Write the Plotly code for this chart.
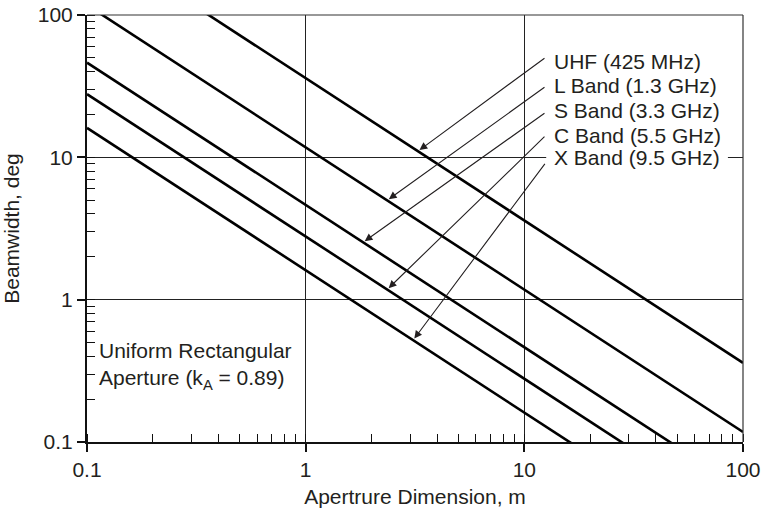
import numpy as np
import plotly.graph_objects as go

# Beamwidth vs. aperture dimension for a uniform rectangular aperture (k_A = 0.89)
band_labels = ["UHF (425 MHz)", "L Band (1.3 GHz)", "S Band (3.3 GHz)",
               "C Band (5.5 GHz)", "X Band (9.5 GHz)"]
aperture_m = [0.1, 100.0]
beamwidth_uhf = [360.0, 0.36]
beamwidth_l = [117.6, 0.1176]
beamwidth_s = [46.3, 0.0463]
beamwidth_c = [27.8, 0.0278]
beamwidth_x = [16.1, 0.0161]
beamwidths = [beamwidth_uhf, beamwidth_l, beamwidth_s, beamwidth_c, beamwidth_x]

# where each callout arrow meets its line (aperture, m)
arrow_tip_aperture = [3.26, 2.36, 1.83, 2.36, 3.10]

FONT = "Liberation Sans, Arial, Helvetica, sans-serif"
INK = "#231f20"
FS = 21

fig = go.Figure()
for name, bw in zip(band_labels, beamwidths):
    fig.add_trace(go.Scatter(x=aperture_m, y=bw, mode="lines", name=name,
                             line=dict(color="black", width=2.6),
                             showlegend=False, hoverinfo="skip"))

annotations = []
# band labels
label_y_log = [1.676, 1.507, 1.331, 1.155, 1.0]
for name, ylog in zip(band_labels, label_y_log):
    annotations.append(dict(
        x=1.126, y=ylog, xref="x", yref="y", text=name, showarrow=False,
        xanchor="left", yanchor="middle",
        font=dict(family=FONT, size=FS, color=INK)))

# callout arrows from the labels to the lines
tail_y_log = [1.704, 1.50, 1.317, 1.155, 0.965]
lx = np.log10(aperture_m)
for bw, tip_x, ty in zip(beamwidths, arrow_tip_aperture, tail_y_log):
    tip_xl = np.log10(tip_x)
    tip_yl = np.interp(tip_xl, lx, np.log10(bw))
    annotations.append(dict(
        x=tip_xl, y=tip_yl, xref="x", yref="y",
        ax=1.099, ay=ty, axref="x", ayref="y",
        text="", showarrow=True, arrowhead=2, arrowsize=1.4,
        arrowwidth=1.1, arrowcolor=INK, standoff=2))

annotations.append(dict(
    x=-0.955, y=np.log10(0.342), xref="x", yref="y",
    text="Uniform Rectangular<br>Aperture (k<sub>A</sub> = 0.89)",
    showarrow=False, xanchor="left", yanchor="middle", align="left",
    font=dict(family=FONT, size=FS, color=INK)))

axis_common = dict(
    type="log", range=[-1, 2], dtick=1, automargin=False,
    showgrid=True, gridcolor="#222", gridwidth=1,
    showline=True, linecolor="#111", linewidth=2,
    ticks="outside", ticklen=8, tickwidth=1.5, tickcolor="#111",
    tickfont=dict(family=FONT, size=FS, color=INK),
    minor=dict(ticks="inside", ticklen=8, tickwidth=1.2, tickcolor="#111",
               dtick="D1", showgrid=False),
    zeroline=False, mirror=False,
)

fig.update_layout(
    width=768, height=510,
    margin=dict(l=87, r=25, t=15, b=68),
    paper_bgcolor="white", plot_bgcolor="white",
    xaxis=dict(**axis_common,
               title=dict(text="Apertrure Dimension, m", standoff=9,
                          font=dict(family=FONT, size=FS, color=INK))),
    yaxis=dict(**axis_common,
               title=dict(text="Beamwidth, deg", standoff=14,
                          font=dict(family=FONT, size=FS, color=INK))),
    annotations=annotations,
    shapes=[
        # frame on the top and right
        dict(type="line", xref="paper", yref="paper", x0=0, x1=1, y0=1, y1=1,
             line=dict(color="#333", width=1.2)),
        dict(type="line", xref="paper", yref="paper", x0=1, x1=1, y0=0, y1=1,
             line=dict(color="#333", width=1.2)),
        # gap in the 10-deg gridline behind the X-band label
        dict(type="line", xref="paper", yref="paper", x0=0.70, x1=0.977,
             y0=2 / 3, y1=2 / 3, line=dict(color="white", width=4)),
    ],
)

fig.write_html("out.html")
